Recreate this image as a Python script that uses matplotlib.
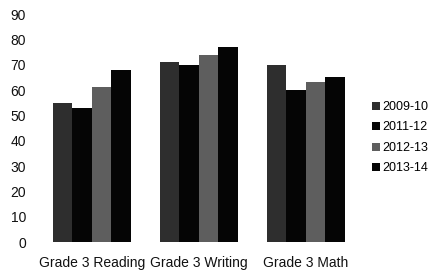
import numpy as np
import matplotlib
matplotlib.use("Agg")
import matplotlib.pyplot as plt

plt.rcParams['font.family'] = ['Liberation Sans', 'DejaVu Sans']

categories = ["Grade 3 Reading", "Grade 3 Writing", "Grade 3 Math"]
years = ["2009-10", "2011-12", "2012-13", "2013-14"]
v_2009 = [55, 71, 70]
v_2011 = [53, 70, 60]
v_2012 = [61, 74, 63]
v_2013 = [68, 77, 65]
yticks = [0, 10, 20, 30, 40, 50, 60, 70, 80, 90]

series = [v_2009, v_2011, v_2012, v_2013]
colors = ["#2e2e2e", "#050505", "#5e5e5e", "#050505"]

fig = plt.figure(figsize=(4.32, 2.75), dpi=100)
ax = fig.add_axes([0.089, 0.12, 0.743, 0.829])

x = np.arange(len(categories))
w = 0.182
for i, vals in enumerate(series):
    ax.bar(x + (i - 1.5) * w, vals, width=w, color=colors[i], label=years[i])

ax.set_xlim(-0.5, len(categories) - 0.5)
ax.set_ylim(0, 90)
ax.set_yticks(yticks)
ax.set_xticks(x)
ax.set_xticklabels(categories)
for s in ax.spines.values():
    s.set_visible(False)
ax.tick_params(axis="y", length=0, pad=9, labelsize=10, colors="#111111")
ax.tick_params(axis="x", length=0, pad=10, labelsize=10, colors="#111111")

# legend on the right, small square keys
fig.legend(loc="upper left", bbox_to_anchor=(372 / 432, 1 - 101 / 275), frameon=False,
           fontsize=9, handlelength=0.6, handleheight=0.6, handletextpad=0.25,
           labelspacing=0.68, borderpad=0, borderaxespad=0)

fig.savefig("out.png", dpi=100)
